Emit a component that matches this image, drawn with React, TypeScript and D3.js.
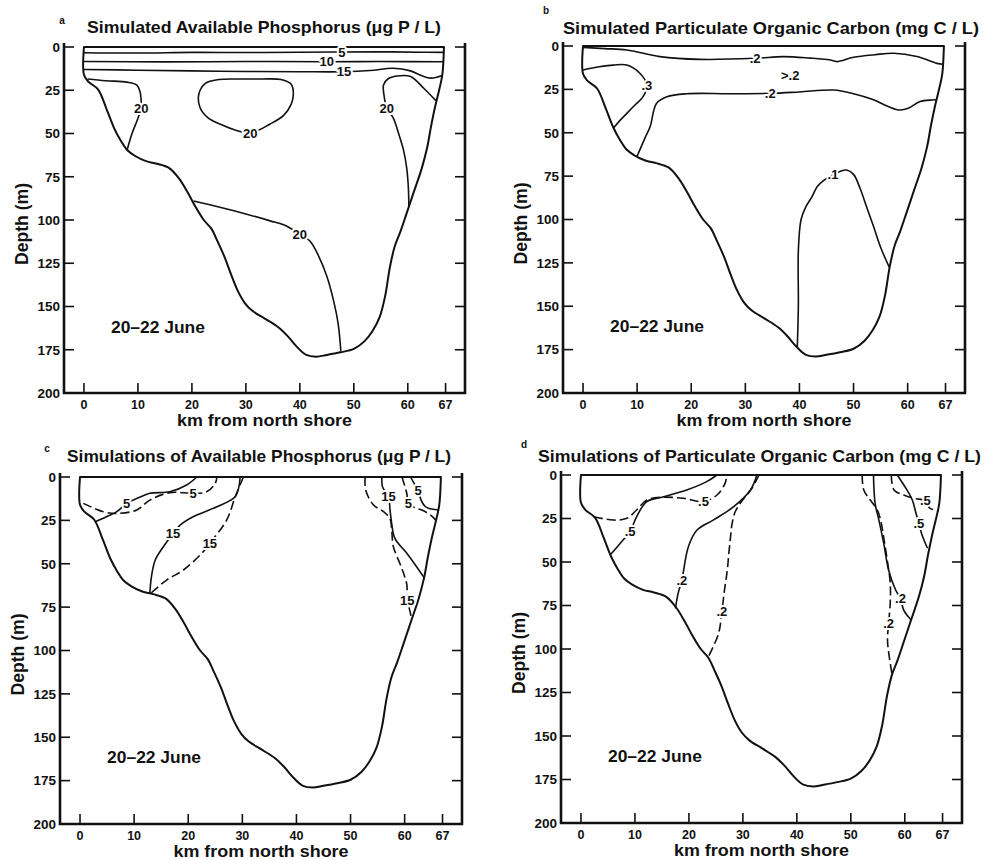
import React from 'react';
import * as d3 from 'd3';

type Pt = [number, number];

// lake cross-section, [km from north shore, depth m]
const basin: Pt[] = [
  [0, 0], [0, 16], [0.8, 20], [2.6, 24.5], [4.2, 36], [5.6, 47], [6.8, 54], [8, 59.5], [9.5, 63],
  [11.5, 66], [13.5, 67.5], [15.8, 70], [17.6, 76], [19.2, 84], [20.6, 92], [22.2, 100], [23.6, 105],
  [24.7, 112], [26, 121], [27.2, 131], [28.5, 141], [29.8, 148], [31.2, 152.5], [33.5, 157], [36, 162],
  [37.7, 167], [39.5, 173.5], [41.2, 178], [43, 179], [45, 178], [47.5, 176.5], [50, 174.5], [52, 170],
  [53.5, 164], [54.8, 156], [55.8, 144], [56.7, 127], [57.6, 115], [58.6, 107], [59.8, 96], [61.2, 83],
  [62.6, 70], [63.6, 58], [64.3, 46], [65.1, 34], [65.8, 25], [66.4, 16], [66.7, 0],
];

const xTicks = [0, 10, 20, 30, 40, 50, 60, 67];
const yTicks = [0, 25, 50, 75, 100, 125, 150, 175, 200];

// a: simulated available phosphorus
const aLine5: Pt[] = [[0, 3.3], [10, 3.5], [20, 3.1], [30, 3.2], [40, 3], [47.8, 2.9], [55, 2.8], [62, 3], [66.7, 3.1]];
const aLine10: Pt[] = [[0, 8.4], [15, 8.6], [30, 8.4], [45, 8.5], [55, 8.4], [66.6, 8.5]];
const aLine15: Pt[] = [[0, 13], [10, 13.4], [25, 14], [40, 14.3], [48.2, 14.3], [53, 13.6], [57.3, 12.3], [60.5, 13.8], [62.5, 16.5], [64.3, 18], [66.4, 16.5]];
const aLine20Left: Pt[] = [[0.7, 18.5], [4, 19.5], [8, 20.3], [9.8, 22], [10.4, 26], [10.6, 31], [10.6, 35.3], [9.9, 42], [8.9, 50], [8, 59.5]];
const aLoop20: Pt[] = [[21.3, 27], [22.5, 21], [25, 18.8], [29, 18.5], [33, 18.5], [36.5, 18.8], [38.4, 21.5], [38.8, 27], [38.4, 33], [37, 39.5], [34.5, 44.5], [30.8, 49.8], [28, 48], [25.5, 45], [23, 41], [21.5, 35]];
const aLine20Right: Pt[] = [[65.2, 31], [63, 24], [60.5, 17], [58, 16.8], [56.3, 18.5], [55.5, 22], [55.6, 28], [56.1, 35.4], [57.3, 41], [58.3, 50], [59.2, 59.5], [59.8, 70], [60.1, 81], [60.2, 92]];
const aLine20Low: Pt[] = [[20.3, 89], [25, 92.5], [30, 96.5], [34.5, 100.5], [37.6, 103.6], [40, 108.4], [41.9, 112.3], [43.5, 121], [45, 132.5], [46.2, 146], [47.1, 160], [47.6, 176]];

// b: simulated particulate organic carbon
const bLineTop: Pt[] = [[0, 0.8], [4, 1.5], [8.1, 2.3], [14.2, 6.1], [21.6, 7.7], [31.8, 7.1], [37, 6.1], [42, 7], [45.7, 8.1], [46.9, 9], [50, 6.5], [54, 5], [57.4, 4.2], [61.7, 6.1], [65.4, 10], [66.5, 10.5]];
const bLineMid: Pt[] = [[10, 63.5], [11.6, 52], [12.4, 46.5], [13.6, 33], [15.5, 29.2], [19.2, 27.5], [27, 27.5], [34.6, 27.3], [40, 26.5], [46.3, 25.4], [50, 27.5], [53.7, 31], [56.5, 35], [58.6, 36.9], [60.1, 35.9], [62.3, 32], [64.5, 31.1], [65.3, 31]];
const bLine3: Pt[] = [[0, 13.8], [3, 12], [5.6, 11], [8.1, 11], [10.5, 15.7], [11.8, 22.5], [11.1, 29.2], [9.6, 34], [8.1, 38.8], [6.8, 43], [5.6, 47.4]];
const bLine1: Pt[] = [[39.6, 174], [39.8, 150], [39.8, 118], [40.3, 100], [41.2, 92.6], [42.3, 87], [43.3, 81], [44.5, 77.5], [46.2, 74.2], [47.5, 72.3], [48.7, 71.5], [50, 74], [51.2, 82], [52.4, 92.6], [53.7, 104], [55, 116], [56.6, 127.5]];

// c: simulations of available phosphorus (solid / dashed runs)
const cSolid5L: Pt[] = [[2.8, 25.8], [4.8, 23], [6.8, 20], [8.6, 15.2], [10.8, 12], [12.9, 9.4], [16.6, 8.5], [19.7, 4.6], [21.6, 0]];
const cDash5L: Pt[] = [[0.6, 15.2], [4.3, 20], [6.8, 21], [10.5, 19], [12.9, 13.3], [16.6, 9], [20.9, 9.4], [23.4, 8.5], [25, 3.6], [25.3, 0]];
const cSolid15L: Pt[] = [[29.6, 0], [28.7, 11.3], [25.3, 17.1], [20.9, 22.9], [18.5, 27.7], [17.2, 32.5], [15.4, 40.2], [13.9, 47.8], [13.2, 57.5], [12.9, 67.2]];
const cDash15L: Pt[] = [[30.2, 0], [28.7, 11.3], [27.1, 24.8], [24, 38.2], [22.5, 44], [19.1, 53.6], [16, 59.4], [13.1, 67]];
const cDash15R: Pt[] = [[52.7, 0], [52.8, 7.5], [54.2, 16], [56.1, 20], [57.3, 24], [57.6, 30], [57.9, 40], [59.1, 49.7], [59.8, 55.5], [60.4, 62], [60.5, 71], [61, 77.6], [61.3, 82]];
const cSolid15R: Pt[] = [[55.8, 0], [55.9, 5.6], [57, 11.3], [57.3, 19], [57.6, 26.7], [58.2, 35.4], [60.4, 44], [62.2, 51.7], [63.6, 58]];
const cDash5R: Pt[] = [[59.5, 0], [60, 5], [60.4, 9.5], [60.7, 15.2], [61.8, 17.5], [63.5, 19.5], [65, 22.5], [65.8, 25]];
const cSolid5R: Pt[] = [[61.1, 0], [61.8, 4], [62.5, 7.5], [63, 13], [63.8, 17], [65, 18.5], [66.3, 19]];

// d: simulations of particulate organic carbon
const dDash5L: Pt[] = [[2.4, 24], [6, 25.9], [8.5, 24.9], [10.3, 20.1], [12.2, 14.4], [14.7, 12.8], [19, 13.4], [22.7, 15.3], [25.2, 11.5], [26.7, 4.8], [27, 0]];
const dSolid5L: Pt[] = [[5.4, 46], [7.8, 37.4], [9.1, 32.6], [10.3, 24], [12.2, 15.3], [15.3, 12.5], [19.6, 8.6], [23.3, 3.8], [25.2, 0]];
const dSolid2L: Pt[] = [[32.6, 0], [31.4, 8.6], [28.3, 18.2], [24.5, 25.9], [21.5, 31.6], [19.9, 41.2], [18.7, 60.3], [18, 68], [17.5, 76.6]];
const dDash2L: Pt[] = [[33, 0], [31.6, 8], [29.8, 15], [28.6, 21], [28, 28], [27.7, 36], [27.4, 45], [27.1, 55], [26.6, 66], [26.1, 78.6], [25.5, 91], [23.6, 104.5]];
const dDash2R: Pt[] = [[52.1, 0], [52.4, 8.6], [53.6, 14.4], [54.9, 20], [55.6, 27], [56.2, 38], [56.8, 50], [57.3, 62], [57.3, 73.7], [57, 85.2], [56.8, 95], [57.1, 104], [57.6, 114]];
const dSolid2R: Pt[] = [[54.2, 0], [54.5, 16.3], [55.2, 25.9], [56.1, 39.3], [57, 54.6], [58.3, 66.1], [59.2, 70.9], [59.8, 77.6], [61.1, 83]];
const dDash5R: Pt[] = [[57.5, 0], [58, 8.6], [59.8, 11.5], [61.8, 13.5], [63.8, 14.8], [64.6, 19], [66.3, 20.5]];
const dSolid5R: Pt[] = [[58.6, 0], [60.4, 8.6], [61.4, 14.4], [62, 21.1], [62.6, 27.8], [63.2, 34.5], [64.2, 42.1]];

type Contour = { pts: Pt[]; dash?: boolean; closed?: boolean; label?: string; at?: Pt };
type Note = { text: string; at: Pt; anchor?: string; size: number; len?: number };
type Frame = { left: number; right: number; top: number; bottom: number };

const FONT = "'Liberation Sans', Arial, Helvetica, sans-serif";

const Panel = ({ frame, letter, letterAt, title, titleX, titleY, titleLen, contours, notes }: {
  frame: Frame; letter: string; letterAt: Pt; title: string; titleX: number; titleY: number; titleLen: number;
  contours: Contour[]; notes: Note[];
}) => {
  const x = d3.scaleLinear().domain([-3.7, 70.6]).range([frame.left, frame.right]);
  const y = d3.scaleLinear().domain([0, 200]).range([frame.top, frame.bottom]);
  const open = d3.line<Pt>().x(d => x(d[0])).y(d => y(d[1])).curve(d3.curveCatmullRom.alpha(0.5));
  const closed = d3.line<Pt>().x(d => x(d[0])).y(d => y(d[1])).curve(d3.curveCatmullRomClosed.alpha(0.5));
  const yTop = frame.top - 4;

  return (
    <g fontFamily={FONT} fontWeight="bold" fill="#111">
      <text x={letterAt[0]} y={letterAt[1]} fontSize={10} textAnchor="middle">{letter}</text>
      <text x={titleX} y={titleY} fontSize={17} textLength={titleLen} lengthAdjust="spacingAndGlyphs">{title}</text>

      {/* frame */}
      <path d={`M${frame.left},${yTop}V${frame.bottom}H${frame.right}V${yTop}`} fill="none" stroke="#111" strokeWidth={2.6} />
      {yTicks.map(t => (
        <g key={`y${t}`}>
          <line x1={frame.left} x2={frame.left + 10} y1={y(t)} y2={y(t)} stroke="#111" strokeWidth={1.6} />
          <line x1={frame.right - 10} x2={frame.right} y1={y(t)} y2={y(t)} stroke="#111" strokeWidth={1.6} />
          <text x={frame.left - 4} y={y(t)} dy="0.36em" fontSize={13.5} textAnchor="end">{t}</text>
        </g>
      ))}
      {xTicks.map(t => (
        <g key={`x${t}`}>
          <line x1={x(t)} x2={x(t)} y1={frame.bottom} y2={frame.bottom - 10} stroke="#111" strokeWidth={1.6} />
          <text x={x(t)} y={frame.bottom + 11} dy="0.36em" fontSize={12.5} textAnchor="middle">{t}</text>
        </g>
      ))}
      <text x={(frame.left + frame.right) / 2} y={frame.bottom + 27} dy="0.36em" fontSize={17} textAnchor="middle"
        textLength={175} lengthAdjust="spacingAndGlyphs">km from north shore</text>
      <text transform={`translate(${frame.left - 42},${(frame.top + frame.bottom) / 2 + 4}) rotate(-90)`} dy="0.36em"
        fontSize={17.5} textAnchor="middle" textLength={82} lengthAdjust="spacingAndGlyphs">Depth (m)</text>

      {/* lake basin, surface closes the path */}
      <path d={(open(basin) || '') + 'Z'} fill="none" stroke="#111" strokeWidth={2} strokeLinejoin="round" />

      {contours.map((c, i) => (
        <path key={`c${i}`} d={(c.closed ? closed(c.pts) : open(c.pts)) || ''} fill="none" stroke="#111"
          strokeWidth={1.6} strokeDasharray={c.dash ? '9,4' : undefined} />
      ))}
      {contours.filter(c => c.label).map((c, i) => (
        <text key={`l${i}`} x={x(c.at![0])} y={y(c.at![1])} dy="0.36em" fontSize={13} textAnchor="middle"
          stroke="#fff" strokeWidth={4} paintOrder="stroke" strokeLinejoin="round">{c.label}</text>
      ))}
      {notes.map((n, i) => (
        <text key={`n${i}`} x={x(n.at[0])} y={y(n.at[1])} dy="0.36em" fontSize={n.size}
          textAnchor={n.anchor || 'start'} textLength={n.len} lengthAdjust={n.len ? 'spacingAndGlyphs' : undefined}>{n.text}</text>
      ))}
    </g>
  );
};

const june: Note = { text: '20–22 June', at: [5, 161.5], size: 17, len: 94 };

export default function App() {
  return (
    <svg width={984} height={860} style={{ position: 'absolute', left: 0, top: 0, background: '#fff' }}>
      <Panel
        frame={{ left: 64, right: 465, top: 47, bottom: 393 }}
        letter="a" letterAt={[62, 24]}
        title="Simulated Available Phosphorus (μg P / L)" titleX={87} titleY={33} titleLen={354}
        contours={[
          { pts: aLine5, label: '5', at: [47.8, 2.9] },
          { pts: aLine10, label: '10', at: [45, 8.5] },
          { pts: aLine15, label: '15', at: [48.2, 14.3] },
          { pts: aLine20Left, label: '20', at: [10.6, 35.3] },
          { pts: aLoop20, closed: true, label: '20', at: [30.8, 49.8] },
          { pts: aLine20Right, label: '20', at: [56.1, 35.4] },
          { pts: aLine20Low, label: '20', at: [40, 108.4] },
        ]}
        notes={[june]}
      />
      <Panel
        frame={{ left: 563, right: 965, top: 46, bottom: 393 }}
        letter="b" letterAt={[546, 14]}
        title="Simulated Particulate Organic Carbon (mg C / L)" titleX={563} titleY={34} titleLen={416}
        contours={[
          { pts: bLineTop, label: '.2', at: [31.8, 7.1] },
          { pts: bLineMid, label: '.2', at: [34.6, 27.3] },
          { pts: bLine3, label: '.3', at: [11.8, 22.5] },
          { pts: bLine1, label: '.1', at: [46.2, 74.2] },
        ]}
        notes={[june, { text: '>.2', at: [38.3, 16.7], size: 13, anchor: 'middle' }]}
      />
      <Panel
        frame={{ left: 60, right: 462, top: 477, bottom: 824 }}
        letter="c" letterAt={[47, 452]}
        title="Simulations of Available Phosphorus  (μg P / L)" titleX={67} titleY={462} titleLen={384}
        contours={[
          { pts: cSolid5L, label: '5', at: [8.6, 15.2] },
          { pts: cDash5L, dash: true, label: '5', at: [20.9, 9.4] },
          { pts: cSolid15L, label: '15', at: [17.2, 32.5] },
          { pts: cDash15L, dash: true, label: '15', at: [24, 38.2] },
          { pts: cDash15R, dash: true, label: '15', at: [60.5, 71] },
          { pts: cSolid15R, label: '15', at: [57, 11.3] },
          { pts: cDash5R, dash: true, label: '5', at: [60.7, 15.2] },
          { pts: cSolid5R, label: '5', at: [62.5, 7.5] },
        ]}
        notes={[june]}
      />
      <Panel
        frame={{ left: 561, right: 962, top: 475, bottom: 823 }}
        letter="d" letterAt={[524, 448]}
        title="Simulations of Particulate Organic Carbon (mg C / L)" titleX={538} titleY={462} titleLen={443}
        contours={[
          { pts: dDash5L, dash: true, label: '.5', at: [22.7, 15.3] },
          { pts: dSolid5L, label: '.5', at: [9.1, 32.6] },
          { pts: dSolid2L, label: '.2', at: [18.7, 60.3] },
          { pts: dDash2L, dash: true, label: '.2', at: [26.1, 78.6] },
          { pts: dDash2R, dash: true, label: '.2', at: [57, 85.2] },
          { pts: dSolid2R, label: '.2', at: [59.2, 70.9] },
          { pts: dDash5R, dash: true, label: '.5', at: [63.8, 14.8] },
          { pts: dSolid5R, label: '.5', at: [62.6, 27.8] },
        ]}
        notes={[june]}
      />
    </svg>
  );
}
